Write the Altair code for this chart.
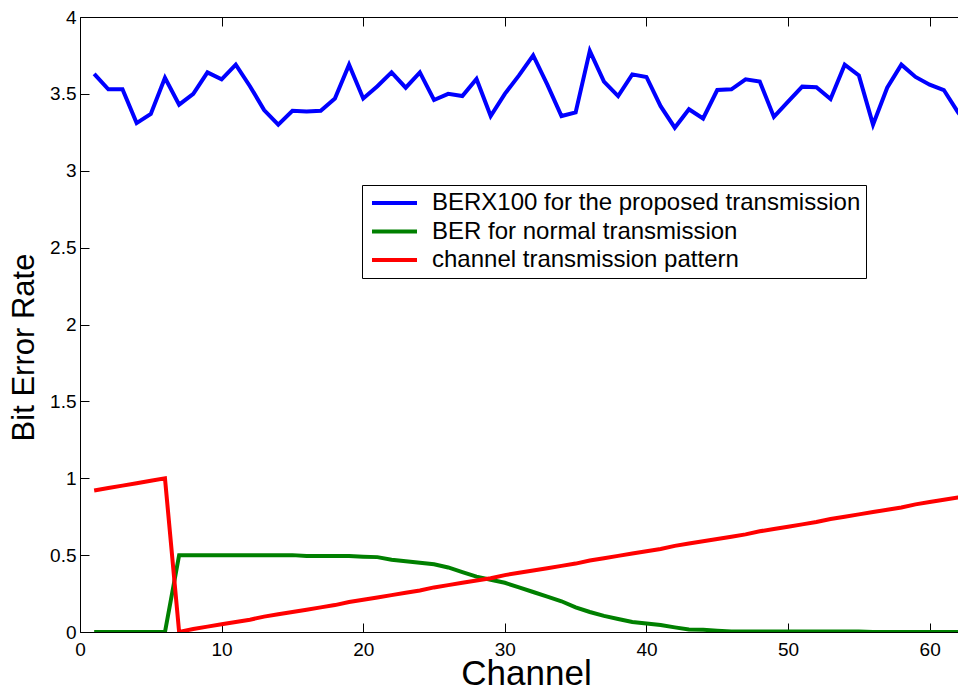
import altair as alt
import pandas as pd

channels = list(range(1, 64))

ber_proposed_x100 = [
    3.63, 3.53, 3.53, 3.31, 3.37, 3.605, 3.43, 3.50, 3.64, 3.595,
    3.69, 3.55, 3.395, 3.30, 3.39, 3.385, 3.39, 3.47, 3.69, 3.47,
    3.55, 3.64, 3.54, 3.64, 3.46, 3.50, 3.486, 3.597, 3.356, 3.50,
    3.62, 3.75, 3.56, 3.356, 3.38, 3.78, 3.58, 3.486, 3.627, 3.61,
    3.42, 3.28, 3.40, 3.34, 3.525, 3.53, 3.595, 3.58, 3.35, 3.45,
    3.547, 3.543, 3.467, 3.69, 3.62, 3.30, 3.54, 3.69, 3.61, 3.56,
    3.525, 3.38, 3.27,
]

ber_normal = [
    0, 0, 0, 0, 0, 0,
    0.5, 0.5, 0.5, 0.5, 0.5, 0.5, 0.5, 0.5, 0.5,
    0.495, 0.495, 0.495, 0.495, 0.49, 0.487,
    0.47, 0.46, 0.45, 0.44, 0.42, 0.39, 0.36, 0.34, 0.32, 0.29,
    0.26, 0.23, 0.20, 0.16, 0.13, 0.105, 0.085, 0.065, 0.055, 0.045,
    0.03, 0.017, 0.015, 0.008,
    0.003, 0.003, 0.003, 0.003, 0.003, 0.003, 0.003, 0.003, 0.003, 0.003,
    0, 0, 0, 0, 0, 0, 0, 0,
]

transmission_pattern = [
    0.92, 0.936, 0.952, 0.968, 0.984, 1.0,
    0.0, 0.02, 0.035, 0.05, 0.065, 0.08, 0.10, 0.115, 0.13, 0.145,
    0.16, 0.175, 0.195, 0.21, 0.225, 0.24, 0.255, 0.27, 0.29, 0.305,
    0.32, 0.335, 0.35, 0.37, 0.385, 0.40, 0.415, 0.43, 0.445, 0.465,
    0.48, 0.495, 0.51, 0.525, 0.54, 0.56, 0.575, 0.59, 0.605, 0.62,
    0.635, 0.655, 0.67, 0.685, 0.70, 0.715, 0.735, 0.75, 0.765, 0.78,
    0.795, 0.81, 0.83, 0.845, 0.86, 0.875, 0.89,
]

series_names = [
    "BERX100 for the proposed transmission",
    "BER for normal transmission",
    "channel transmission pattern",
]
series_colors = ["#0000ff", "#008000", "#ff0000"]

x_ticks = [0, 10, 20, 30, 40, 50, 60]
y_ticks = [0, 0.5, 1, 1.5, 2, 2.5, 3, 3.5, 4]

rows = []
for name, vals in zip(series_names, [ber_proposed_x100, ber_normal, transmission_pattern]):
    for c, v in zip(channels, vals):
        rows.append({"channel": c, "value": v, "series": name})
df = pd.DataFrame(rows)

W = 878
H = 615
FONT = "Liberation Sans, Arial, Helvetica, sans-serif"

xscale = alt.Scale(domain=[0, 62], nice=False, zero=False)
yscale = alt.Scale(domain=[0, 4], nice=False)

main = alt.Chart(df).mark_line(strokeWidth=4, clip=True).encode(
    x=alt.X("channel:Q", scale=xscale, axis=alt.Axis(
        orient="bottom", values=x_ticks, ticks=False, grid=False,
        domainColor="black", domainWidth=1, labelFlush=False,
        labelFont=FONT, labelFontSize=19, labelColor="black", labelPadding=8,
        title="Channel", titleFont=FONT, titleFontSize=35, titleFontWeight="normal",
        titleColor="black", titleX=446, titleY=52, titleBaseline="alphabetic",
        titleAlign="center")),
    y=alt.Y("value:Q", scale=yscale, axis=alt.Axis(
        orient="left", values=y_ticks, format="~g", ticks=False, grid=False,
        domainColor="black", domainWidth=1, labelFlush=False,
        labelFont=FONT, labelFontSize=19, labelColor="black", labelPadding=4,
        title="Bit Error Rate", titleFont=FONT, titleFontSize=31, titleFontWeight="normal",
        titleColor="black", titleAngle=270, titleX=-47, titleY=330,
        titleBaseline="alphabetic", titleAlign="center")),
    color=alt.Color("series:N",
        scale=alt.Scale(domain=series_names, range=series_colors),
        legend=alt.Legend(
            orient="none", legendX=282, legendY=168, title=None, direction="vertical",
            symbolType="stroke", symbolSize=2025, symbolStrokeWidth=4,
            symbolOffset=3, labelOffset=13, labelFont=FONT, labelFontSize=24,
            labelColor="black", labelLimit=700, labelBaseline="middle",
            padding=5, strokeColor="black", fillColor="white",
            clipHeight=26, rowPadding=2.5)),
    order=alt.Order("channel:Q"),
)

ticks_a = alt.Chart(df).mark_line(opacity=0).encode(
    x=alt.X("channel:Q", scale=xscale, axis=alt.Axis(
        orient="top", offset=-H, values=x_ticks, labels=False, domain=False,
        ticks=True, tickSize=9, tickColor="black", grid=False, title=None)),
    y=alt.Y("value:Q", scale=yscale, axis=alt.Axis(
        orient="right", offset=-W, values=y_ticks, labels=False, domain=False,
        ticks=True, tickSize=9, tickColor="black", grid=False, title=None)),
)

ticks_b = alt.Chart(df).mark_line(opacity=0).encode(
    x=alt.X("channel:Q", scale=xscale, axis=alt.Axis(
        orient="bottom", offset=-H, values=x_ticks, labels=False, domain=True,
        domainColor="black", ticks=True, tickSize=9, tickColor="black",
        grid=False, title=None)),
    y=alt.Y("value:Q", scale=yscale, axis=None),
)

chart = alt.layer(main, ticks_a, ticks_b).resolve_axis(
    x="independent", y="independent"
).properties(
    width=W, height=H,
    autosize=alt.AutoSizeParams(type="none"),
    padding={"left": 72, "top": 9, "right": 0, "bottom": 54},
    background="white",
).configure_view(stroke="transparent")

chart.save("out.html", embed_options={"renderer": "svg", "actions": False})
